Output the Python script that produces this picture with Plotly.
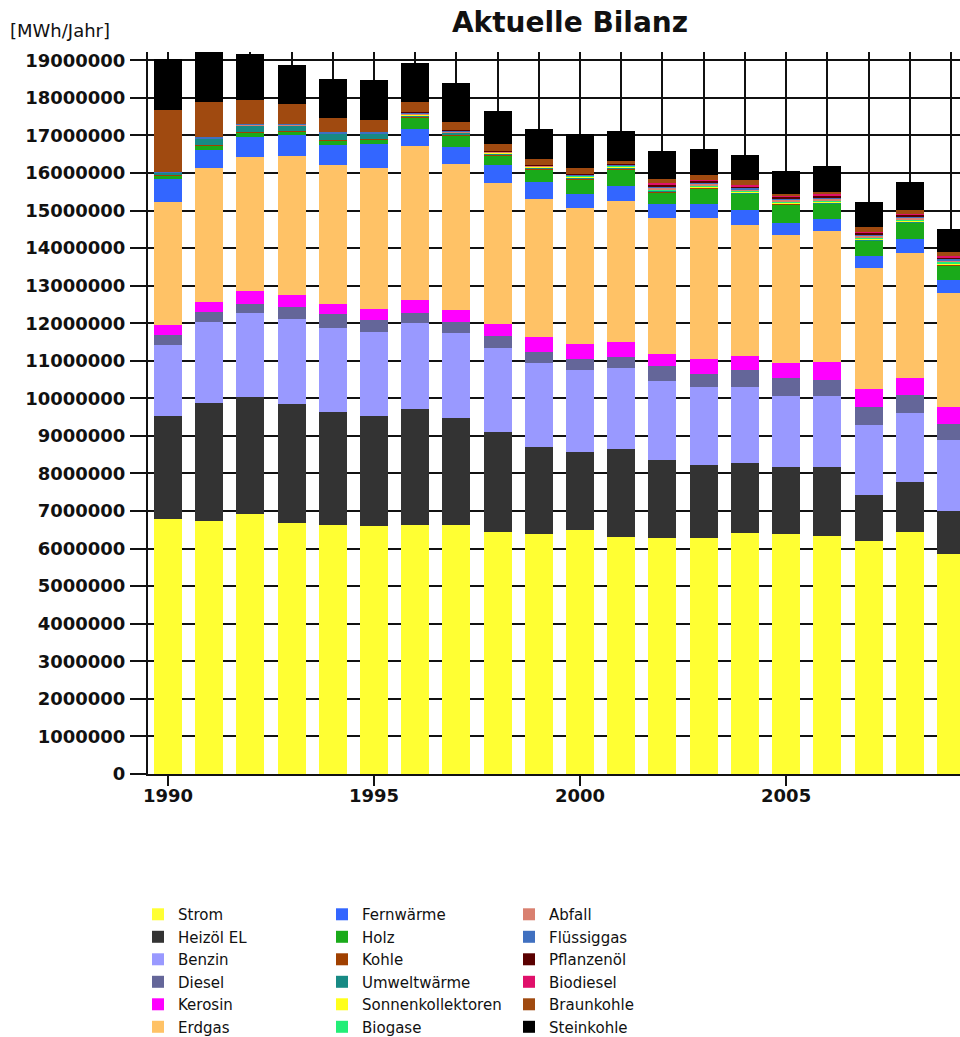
import plotly.graph_objects as go

years = list(range(1990, 2010))

strom = [6800000, 6740000, 6910000, 6690000, 6630000, 6600000, 6630000, 6630000, 6450000, 6390000,
         6490000, 6310000, 6270000, 6270000, 6420000, 6390000, 6330000, 6210000, 6430000, 5850000]
heizoel = [2730000, 3140000, 3130000, 3170000, 3010000, 2930000, 3080000, 2840000, 2660000, 2320000,
           2090000, 2330000, 2090000, 1950000, 1860000, 1790000, 1850000, 1210000, 1350000, 1160000]
benzin = [1890000, 2160000, 2240000, 2260000, 2230000, 2230000, 2290000, 2260000, 2230000, 2220000,
          2170000, 2180000, 2110000, 2070000, 2010000, 1880000, 1880000, 1870000, 1820000, 1880000]
diesel = [260000, 260000, 240000, 310000, 370000, 320000, 280000, 310000, 310000, 300000,
          310000, 280000, 390000, 370000, 460000, 470000, 420000, 480000, 490000, 420000]
kerosin = [270000, 270000, 340000, 320000, 280000, 310000, 350000, 310000, 340000, 400000,
           400000, 400000, 320000, 390000, 390000, 400000, 490000, 470000, 440000, 450000]
erdgas = [3280000, 3550000, 3570000, 3690000, 3690000, 3750000, 4080000, 3900000, 3740000, 3690000,
          3620000, 3760000, 3630000, 3760000, 3470000, 3410000, 3480000, 3230000, 3350000, 3050000]
fernwaerme = [620000, 480000, 530000, 560000, 530000, 640000, 470000, 440000, 480000, 440000,
              370000, 390000, 360000, 360000, 400000, 330000, 320000, 310000, 360000, 330000]
holz = [80000, 130000, 120000, 110000, 120000, 110000, 290000, 310000, 260000, 330000,
        370000, 440000, 320000, 420000, 440000, 500000, 420000, 410000, 430000, 400000]
kohle = [10000, 10000, 10000, 10000, 10000, 10000, 30000, 30000, 20000, 20000,
         20000, 20000, 10000, 10000, 10000, 10000, 10000, 10000, 10000, 10000]
umweltwaerme = [60000, 170000, 170000, 140000, 170000, 140000, 40000, 40000, 40000, 40000,
                40000, 40000, 20000, 20000, 20000, 20000, 20000, 20000, 20000, 20000]
sonnenkollektoren = [0, 0, 0, 0, 0, 0, 10000, 10000, 10000, 10000,
                     20000, 20000, 20000, 20000, 20000, 20000, 30000, 30000, 30000, 30000]
biogase = [0, 0, 0, 0, 0, 0, 10000, 10000, 10000, 10000,
           20000, 20000, 30000, 30000, 30000, 30000, 30000, 40000, 40000, 40000]
abfall = [10000, 20000, 20000, 20000, 20000, 20000, 20000, 20000, 20000, 20000,
          20000, 20000, 40000, 40000, 40000, 40000, 40000, 40000, 40000, 40000]
fluessiggas = [10000, 20000, 20000, 20000, 20000, 20000, 20000, 20000, 10000, 10000,
               20000, 20000, 30000, 30000, 30000, 30000, 30000, 30000, 30000, 30000]
pflanzenoel = [0, 0, 0, 0, 0, 0, 20000, 10000, 10000, 10000,
               10000, 20000, 50000, 50000, 50000, 50000, 50000, 50000, 50000, 50000]
biodiesel = [0, 0, 0, 0, 0, 0, 0, 0, 0, 0,
             0, 0, 30000, 30000, 30000, 30000, 30000, 30000, 30000, 30000]
braunkohle = [1650000, 940000, 650000, 530000, 390000, 340000, 270000, 220000, 190000, 150000,
              170000, 70000, 130000, 130000, 120000, 50000, 60000, 120000, 100000, 110000]
steinkohle = [1370000, 1330000, 1210000, 1040000, 1040000, 1050000, 1040000, 1040000, 860000, 800000,
              910000, 800000, 740000, 700000, 670000, 590000, 700000, 680000, 740000, 620000]

series = [
    ("Strom", strom, "#FFFF33", "legend"),
    ("Heizöl EL", heizoel, "#333333", "legend"),
    ("Benzin", benzin, "#9999FF", "legend"),
    ("Diesel", diesel, "#646699", "legend"),
    ("Kerosin", kerosin, "#FF00FF", "legend"),
    ("Erdgas", erdgas, "#FFC266", "legend"),
    ("Fernwärme", fernwaerme, "#3366FF", "legend2"),
    ("Holz", holz, "#1AAA1A", "legend2"),
    ("Kohle", kohle, "#A04000", "legend2"),
    ("Umweltwärme", umweltwaerme, "#178A84", "legend2"),
    ("Sonnenkollektoren", sonnenkollektoren, "#FFFF1A", "legend2"),
    ("Biogase", biogase, "#22EE77", "legend2"),
    ("Abfall", abfall, "#D98070", "legend3"),
    ("Flüssiggas", fluessiggas, "#4070C0", "legend3"),
    ("Pflanzenöl", pflanzenoel, "#5A0000", "legend3"),
    ("Biodiesel", biodiesel, "#E0106A", "legend3"),
    ("Braunkohle", braunkohle, "#A04A10", "legend3"),
    ("Steinkohle", steinkohle, "#000000", "legend3"),
]

fig = go.Figure()
for name, vals, color, lg in series:
    fig.add_trace(go.Bar(x=years, y=vals, name=name, marker=dict(color=color, line=dict(width=0)),
                         legend=lg))

FONT = "DejaVu Sans"
legend_common = dict(orientation="v", xanchor="left", yanchor="top", y=-0.1718,
                     font=dict(family=FONT, size=15, color="#111111"),
                     bgcolor="rgba(0,0,0,0)", borderwidth=0, traceorder="normal")

fig.update_layout(
    width=960, height=1037,
    margin=dict(l=148, r=0, t=52, b=263, autoexpand=False),
    paper_bgcolor="white", plot_bgcolor="white",
    barmode="stack", bargap=0.32,
    title=dict(text="Aktuelle Bilanz", x=570 / 960, xref="container", xanchor="center",
               y=1 - 22 / 1037, yref="container", yanchor="middle",
               font=dict(family=FONT, size=28, color="#111111", weight="bold")),
    legend=dict(x=-0.0123, **legend_common),
    legend2=dict(x=0.2143, **legend_common),
    legend3=dict(x=0.4446, **legend_common),
    xaxis=dict(range=[1989.515, 2009.22], tickmode="linear", tick0=1990, dtick=5,
               showgrid=True, gridcolor="#111111", gridwidth=1.5,
               minor=dict(dtick=1, tick0=1990, showgrid=True, gridcolor="#111111", gridwidth=1.5),
               ticks="outside", ticklen=10, tickwidth=1.5, tickcolor="#111111",
               ticklabelstandoff=-6,
               showline=True, linecolor="#111111", linewidth=2,
               tickfont=dict(family=FONT, size=18, color="#111111", weight="bold"), zeroline=False),
    yaxis=dict(range=[0, 19220000], tickmode="linear", tick0=0, dtick=1000000, tickformat="d",
               showgrid=True, gridcolor="#111111", gridwidth=2,
               ticks="outside", ticklen=16, tickwidth=2, tickcolor="#111111",
               showline=True, linecolor="#111111", linewidth=2, zeroline=False,
               ticklabelstandoff=1,
               tickfont=dict(family=FONT, size=18, color="#111111", weight="bold")),
)

fig.add_annotation(text="[MWh/Jahr]", xref="paper", yref="paper", x=(8 - 148) / 812,
                   y=(774 - 30) / 722, xanchor="left", yanchor="middle", showarrow=False,
                   font=dict(family=FONT, size=18, color="#111111"))

fig.write_html("out.html", config={"displayModeBar": False},
               post_script="document.body.style.margin='0';document.body.style.overflow='hidden';")
